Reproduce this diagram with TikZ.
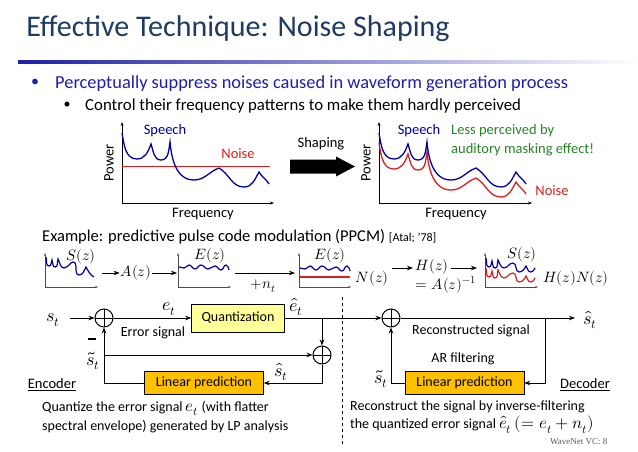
\documentclass[tikz,border=0pt]{standalone}
\usepackage{unicode-math}
\setmainfont{Carlito}
\setmathfont{Latin Modern Math}[Scale=1.2]
\newfontfamily\timesf{Liberation Serif}
\usetikzlibrary{arrows.meta}
\definecolor{ttl}{RGB}{31,60,96}
\definecolor{bt1}{RGB}{30,30,170}
\definecolor{bl}{RGB}{0,0,160}
\definecolor{rd}{RGB}{220,30,30}
\definecolor{gr}{RGB}{40,130,40}
\definecolor{qy}{RGB}{255,255,153}
\definecolor{lo}{RGB}{255,192,0}
\begin{document}
\begin{tikzpicture}[x=1pt,y=-1pt,
  txt/.style={inner sep=0pt,anchor=west},
  ax/.style={-{Stealth[length=4pt]},line width=0.6pt},
  bc/.style={bl,line width=1.3pt},
  rc/.style={rd,line width=1.3pt},
  sarr/.style={-{Stealth[length=6pt]},line width=0.8pt},
  ln/.style={line width=0.8pt},
  sumn/.style={circle,draw,line width=1pt,minimum size=18pt,inner sep=0pt,path picture={\draw[line width=1pt] (path picture bounding box.north)--(path picture bounding box.south) (path picture bounding box.west)--(path picture bounding box.east);}},
  quant/.style={draw,fill=qy,minimum width=93pt,minimum height=28pt,font=\fontsize{14}{14}\selectfont},
  lp/.style={draw,fill=lo,minimum width=119pt,minimum height=23pt,font=\fontsize{14}{14}\selectfont},
  gl/.style={font=\fontsize{14.5}{14.5}\selectfont}]
\useasboundingbox (0,0) rectangle (638,452);
% title
\node[text=ttl,font=\fontsize{30}{30}\selectfont] (title) at (238,29) {Effective Technique: Noise Shaping};
\shade[left color=bt1,right color=white] (18,60.5) rectangle (638,64);
\node[txt,text=bt1,font=\fontsize{18.4}{18.4}\selectfont] (b1) at (55,84) {Perceptually suppress noises caused in waveform generation process};
\node[text=bt1,font=\fontsize{16}{16}\selectfont] (d1) at (35,83) {\textbullet};
\node[txt,font=\fontsize{16.8}{16.8}\selectfont] (b2) at (85,106) {Control their frequency patterns to make them hardly perceived};
\node[font=\fontsize{14}{14}\selectfont] (d2) at (67,105) {\textbullet};
% graph 1
\draw[ax] (122,203)--(122,122);
\draw[ax] (122,203)--(274,203);
\node[rotate=90,gl] (p1) at (109,163) {Power};
\node[gl] (f1) at (203,214) {Frequency};
\node[gl,text=bl] (sp1) at (165,131) {Speech};
\node[gl,text=rd] (n1) at (238,154) {Noise};
\draw[rc] (122,166.5)--(270,166.5);
\def\spc{(122,133) to[out=-80,in=180] (137,159) to[out=0,in=-110] (151,144) to[out=-70,in=180] (161,160) to[out=0,in=-100] (170,142) to[out=-85,in=180] (194,180) to[out=0,in=-160] (219,168) to[out=-30,in=180] (244,187) to[out=0,in=-120] (259,172) to[out=-60,in=120] (269,184)}
\draw[bc] \spc;
% shaping arrow
\fill[black] (290,159.5) -- (336,159.5) -- (336,156.5) -- (355,166.5) -- (336,176.5) -- (336,173.5) -- (290,173.5) -- cycle;
\node[gl] (shl) at (321,144) {Shaping};
% graph 2
\draw[ax] (379,203)--(379,122);
\draw[ax] (379,203)--(532,203);
\node[rotate=90,gl] (p2) at (366,163) {Power};
\node[gl] (f2) at (456,214) {Frequency};
\node[gl,text=bl] (sp2) at (419,131) {Speech};
\node[txt,text=gr,font=\fontsize{14.5}{18.5}\selectfont,align=left] (lp2) at (451,140) {Less perceived by\\auditory masking effect!};
\node[gl,text=rd] (n2) at (552,191) {Noise};
\begin{scope}[xshift=257pt,yshift=-10pt]
\draw[rc] \spc;
\end{scope}
\begin{scope}[xshift=257pt]
\draw[bc] \spc;
\end{scope}
% example
\node[txt,font=\fontsize{16.5}{16.5}\selectfont] (ex) at (42,237) {Example: predictive pulse code modulation (PPCM) {\fontsize{12}{12}\selectfont [Atal; '78]}};
\tikzset{sax/.style={-{Stealth[length=3pt]},line width=0.5pt,gray!60!black},m/.style={font=\fontsize{12.5}{12.5}\selectfont,inner sep=1pt}}
% plot1
\draw[sax] (45,287)--(45,253); \draw[sax] (45,287)--(98,287);
\draw[bl,line width=1.2pt] (46,257) to[out=-70,in=180] (49,266) to[out=0,in=-120] (52,260) to[out=-60,in=180] (55,267) to[out=0,in=-110] (58,259) to[out=-60,in=170] (64,268) to[out=-10,in=-150] (70,264) to[out=30,in=180] (73,262) to[out=0,in=180] (79,275) to[out=0,in=-120] (86,267) to[out=-60,in=150] (94,277);
\node[m] (s1) at (81,257) {$S(z)$};
\node[m] (az) at (136,273) {$A(z)$};
\draw[sarr,line width=0.6pt] (102,273)--(az);
% plot2
\draw[sax] (178,287)--(178,253); \draw[sax] (178,287)--(231,287);
\draw[bl,line width=1.2pt] (179,267) to[out=0,in=180] (184,268) to[out=0,in=180] (189,265) to[out=0,in=180] (195,269) to[out=0,in=180] (201,265) to[out=0,in=180] (208,269) to[out=0,in=180] (215,266) to[out=0,in=180] (221,270) to[out=0,in=180] (226,265) to[out=0,in=120] (229,270);
\node[m] (e1) at (210,256) {$E(z)$};
\draw[sarr,line width=0.6pt] (az)--(177,273);
\draw[sarr,line width=0.6pt] (235,273)--(295,273);
\node[m] (nt) at (263,286) {$+n_t$};
% plot3
\draw[sax] (299,287)--(299,253); \draw[sax] (299,287)--(351,287);
\draw[bl,line width=1.2pt] (300,268) to[out=0,in=180] (305,269) to[out=0,in=180] (310,266) to[out=0,in=180] (316,270) to[out=0,in=180] (322,266) to[out=0,in=180] (329,270) to[out=0,in=180] (336,267) to[out=0,in=180] (342,271) to[out=0,in=180] (347,266) to[out=0,in=120] (350,271);
\draw[rd,line width=1.2pt] (300,277)--(350,277);
\node[m] (e2) at (330,256) {$E(z)$};
\node[m] (nz) at (372,279) {$N(z)$};
\draw[sarr,line width=0.6pt] (392,268)--(413,268);
\node[m] (hz) at (432,267) {$H(z)$};
\node[m] (hz2) at (446,285) {$=A(z)^{-1}$};
\draw[sarr,line width=0.6pt] (451,268)--(477,268);
% plot4
\draw[sax] (485,287)--(485,253); \draw[sax] (485,287)--(538,287);
\def\pfour{(486,258) to[out=-70,in=180] (489,267) to[out=0,in=-120] (492,261) to[out=-60,in=180] (495,268) to[out=0,in=-110] (498,260) to[out=-60,in=170] (504,268) to[out=-10,in=-150] (510,264) to[out=30,in=180] (513,263) to[out=0,in=180] (519,272) to[out=0,in=-120] (526,266) to[out=-60,in=180] (531,272) to[out=0,in=-120] (535,268)}
\draw[bl,line width=1.2pt] \pfour;
\begin{scope}[yshift=-10pt]\draw[rd,line width=1.2pt] \pfour;\end{scope}
\node[m] (s2) at (522,255) {$S(z)$};
\node[m] (hn) at (576,279) {$H(z)N(z)$};
% block diagram encoder
\tikzset{btx/.style={font=\fontsize{15}{15}\selectfont}}
\node[btx] (st) at (53,320) {$s_t$};
\node[sumn] (s1e) at (104,318) {};
\node[quant] (q) at (238,318) {Quantization};
\node[btx] (et) at (169,309) {$e_t$};
\node[btx] (ehat) at (296,307) {$\hat e_t$};
\node[font=\fontsize{14}{14}\selectfont] (err) at (153,333) {Error signal};
\node[sumn] (s2e) at (322,355) {};
\node[lp] (lpe) at (204,383) {Linear prediction};
\node[inner sep=0pt] (minus) at (92,339) {\rule{8pt}{1.3pt}};
\node[btx] (stil) at (93,361) {$\tilde s_t$};
\node[btx] (shat) at (281,372) {$\hat s_t$};
\node[font=\fontsize{14.5}{14.5}\selectfont] (enc) at (52,385) {\underline{Encoder}};
\draw[sarr] (70,318)--(s1e);
\draw[sarr] (s1e)--(q);
\coordinate (br) at (322,318);
\coordinate (bl) at (104,383);
\coordinate (bl2) at (104,355);
\node[sumn] (s1d) at (391,318) {};
\draw[sarr] (q)--(s1d);
\draw[sarr] (br)--(s2e);
\draw[sarr] (s2e.south)|-(lpe.east);
\draw[ln] (lpe.west)--(bl);
\draw[sarr] (bl)--(s1e);
\draw[sarr] (bl2)--(s2e);
% dashed
\draw[dashed,line width=0.8pt] (342,297)--(342,445);
% decoder
\node[btx] (shd) at (590,320) {$\hat s_t$};
\draw[sarr] (s1d)--(575,318);
\node[lp] (lpd) at (464.5,383) {Linear prediction};
\coordinate (brd) at (545,318);
\draw[sarr] (brd)|-(lpd.east);
\coordinate (cd) at (391,383);
\draw[ln] (lpd.west)--(cd);
\draw[sarr] (cd)--(s1d);
\node[btx] (std) at (381,379) {$\tilde s_t$};
\node[font=\fontsize{14}{14}\selectfont] (rec) at (471,331) {Reconstructed signal};
\node[font=\fontsize{14}{14}\selectfont] (arf) at (463,359) {AR filtering};
\node[font=\fontsize{14.5}{14.5}\selectfont] (dec) at (585,385) {\underline{Decoder}};
\node[txt,font=\fontsize{14}{18.5}\selectfont,align=left] (tl) at (42,417) {Quantize the error signal $e_t$ (with flatter\\spectral envelope) generated by LP analysis};
\node[txt,font=\fontsize{14}{18.5}\selectfont,align=left] (tr) at (350,417) {Reconstruct the signal by inverse-filtering\\the quantized error signal $\hat e_t$ $(=e_t+n_t)$};
\node[anchor=east,font=\timesf\fontsize{9}{9}\selectfont,text=gray!70!black] (pg) at (611,442) {WaveNet VC: 8};
\end{tikzpicture}
\end{document}
